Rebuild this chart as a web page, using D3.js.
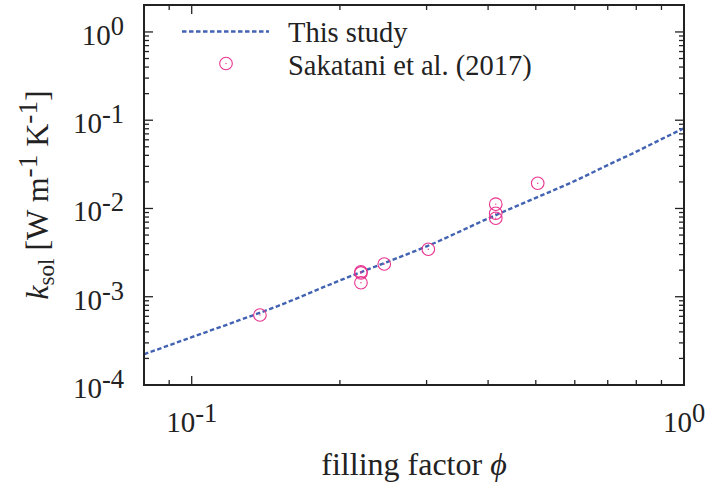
<!DOCTYPE html>
<html><head><meta charset="utf-8">
<script src="https://cdn.jsdelivr.net/npm/d3@7"></script>
<style>body{margin:0;background:#fff}text{font-family:"Liberation Serif","Times New Roman",serif;fill:#222}</style>
</head><body><svg id="c" width="706" height="488"></svg>
<script>
// "This study" curve: filling factor phi vs k_sol [W m^-1 K^-1]
const curvePhi = [0.08, 0.10, 0.12, 0.15, 0.2, 0.25, 0.3, 0.4, 0.5, 0.6, 0.7, 0.8, 0.9, 1.0];
const curveK   = [2.23e-4, 3.48e-4, 5.0e-4, 7.9e-4, 1.53e-3, 2.49e-3, 3.72e-3, 7.7e-3, 1.32e-2, 2.05e-2, 3.1e-2, 4.4e-2, 6.1e-2, 8.1e-2];
// Sakatani et al. (2017)
const sakPhi = [0.1376, 0.2207, 0.2207, 0.2207, 0.2461, 0.3024, 0.4146, 0.4146, 0.4146, 0.5045];
const sakK   = [6.21e-4, 1.92e-3, 1.86e-3, 1.44e-3, 2.35e-3, 3.45e-3, 1.12e-2, 8.83e-3, 7.75e-3, 1.93e-2];
const xTickVals = [0.1, 1];
const xTickExp = ["-1", "0"];
const yTickVals = [1e-4, 1e-3, 1e-2, 1e-1, 1];
const yTickExp = ["-4", "-3", "-2", "-1", "0"];
const legendLabels = ["This study", "Sakatani et al. (2017)"];

const svg = d3.select("#c");
const L = 144, R = 684, T = 5, B = 385;
const x = d3.scaleLog().domain([0.08, 1]).range([L, R]);
const y = d3.scaleLog().domain([1e-4, 2.02]).range([B, T]);
const lineColor = "#4262b2", markColor = "#e8338f", axisColor = "#222";
const fs = 28.5, tfs = 29, sfs = 26.5, lfs = 32;

// minor/major ticks
const xMinor = [0.09], yMinor = [];
for (let m = 2; m <= 9; m++) xMinor.push(m / 10);
[-4, -3, -2, -1].forEach(e => { for (let m = 2; m <= 9; m++) yMinor.push(m * Math.pow(10, e)); });
const tg = svg.append("g").attr("stroke", axisColor).attr("stroke-width", 1.3);
xMinor.forEach(v => {
  tg.append("line").attr("x1", x(v)).attr("x2", x(v)).attr("y1", B).attr("y2", B - 5);
  tg.append("line").attr("x1", x(v)).attr("x2", x(v)).attr("y1", T).attr("y2", T + 5);
});
xTickVals.forEach(v => {
  tg.append("line").attr("x1", x(v)).attr("x2", x(v)).attr("y1", B).attr("y2", B - 9);
  tg.append("line").attr("x1", x(v)).attr("x2", x(v)).attr("y1", T).attr("y2", T + 9);
});
yMinor.forEach(v => {
  tg.append("line").attr("x1", L).attr("x2", L + 5).attr("y1", y(v)).attr("y2", y(v));
  tg.append("line").attr("x1", R).attr("x2", R - 5).attr("y1", y(v)).attr("y2", y(v));
});
yTickVals.forEach(v => {
  tg.append("line").attr("x1", L).attr("x2", L + 9).attr("y1", y(v)).attr("y2", y(v));
  tg.append("line").attr("x1", R).attr("x2", R - 9).attr("y1", y(v)).attr("y2", y(v));
});

// tick labels
yTickVals.forEach((v, i) => {
  const t = svg.append("text").attr("x", 124).attr("y", y(v) + 13).attr("text-anchor", "end").attr("font-size", tfs);
  t.append("tspan").text("10");
  t.append("tspan").attr("font-size", sfs).attr("dy", -10).text(yTickExp[i]);
});
xTickVals.forEach((v, i) => {
  const t = svg.append("text").attr("x", x(v)).attr("y", 432).attr("text-anchor", "middle").attr("font-size", tfs);
  t.append("tspan").text("10");
  t.append("tspan").attr("font-size", sfs).attr("dy", -10).text(xTickExp[i]);
});

// axis labels
const xl = svg.append("text").attr("x", 414).attr("y", 475).attr("text-anchor", "middle").attr("font-size", lfs);
xl.append("tspan").text("filling factor ");
xl.append("tspan").attr("font-style", "italic").text("\u03D5");

const yl = svg.append("text").attr("transform", "translate(48,195) rotate(-90)").attr("text-anchor", "middle").attr("font-size", lfs);
yl.append("tspan").attr("font-style", "italic").text("k");
yl.append("tspan").attr("font-size", lfs * 0.72).attr("dy", 6).text("sol");
yl.append("tspan").attr("dy", -6).text(" [W m");
yl.append("tspan").attr("font-size", lfs * 0.85).attr("dy", -11).text("-1");
yl.append("tspan").attr("dy", 11).text(" K");
yl.append("tspan").attr("font-size", lfs * 0.85).attr("dy", -11).text("-1");
yl.append("tspan").attr("dy", 11).text("]");

// clip
svg.append("clipPath").attr("id", "clip").append("rect").attr("x", L).attr("y", T).attr("width", R - L).attr("height", B - T);

// curve
const curveData = curvePhi.map((p, i) => [p, curveK[i]]);
svg.append("path").attr("clip-path", "url(#clip)")
  .attr("d", d3.line().x(d => x(d[0])).y(d => y(d[1])).curve(d3.curveMonotoneX)(curveData))
  .attr("fill", "none").attr("stroke", lineColor).attr("stroke-width", 2.4).attr("stroke-dasharray", "4.5,2.5");

// points
const sak = sakPhi.map((p, i) => [p, sakK[i]]);
const pg = svg.append("g");
sak.forEach(d => {
  pg.append("circle").attr("cx", x(d[0])).attr("cy", y(d[1])).attr("r", 6.3).attr("fill", "none").attr("stroke", markColor).attr("stroke-width", 1.1);
  pg.append("circle").attr("cx", x(d[0])).attr("cy", y(d[1])).attr("r", 0.7).attr("fill", markColor);
});

// legend
svg.append("line").attr("x1", 182).attr("x2", 269).attr("y1", 31.5).attr("y2", 31.5)
  .attr("stroke", lineColor).attr("stroke-width", 2.4).attr("stroke-dasharray", "4.5,2.5");
svg.append("text").attr("x", 288).attr("y", 42).attr("font-size", fs).text(legendLabels[0]);
svg.append("circle").attr("cx", 226).attr("cy", 63.5).attr("r", 6.3).attr("fill", "none").attr("stroke", markColor).attr("stroke-width", 1.1);
svg.append("circle").attr("cx", 226).attr("cy", 63.5).attr("r", 0.7).attr("fill", markColor);
svg.append("text").attr("x", 288).attr("y", 75).attr("font-size", fs).text(legendLabels[1]);

// frame
svg.append("rect").attr("x", L).attr("y", T).attr("width", R - L).attr("height", B - T)
  .attr("fill", "none").attr("stroke", axisColor).attr("stroke-width", 2);
</script></body></html>
